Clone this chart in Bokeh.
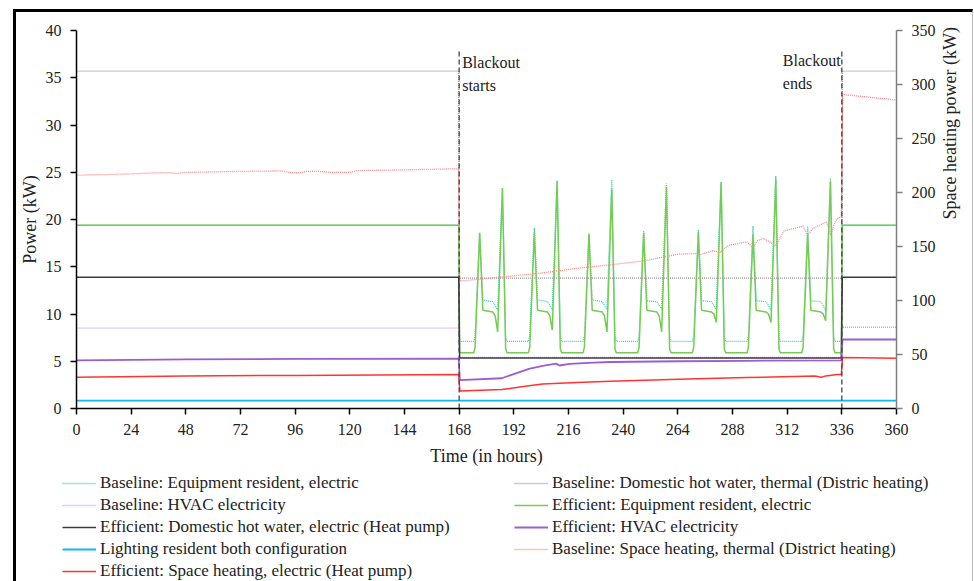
import math
from bokeh.plotting import figure
from bokeh.layouts import column
from bokeh.models import Range1d, LinearAxis, FixedTicker, Legend, LegendItem, Label
from bokeh.embed import file_html
from bokeh.resources import INLINE

FONT = "Liberation Serif"

# ---------------- data ----------------
x_ticks = [0, 24, 48, 72, 96, 120, 144, 168, 192, 216, 240, 264, 288, 312, 336, 360]
y_ticks_left = [0, 5, 10, 15, 20, 25, 30, 35, 40]
y_ticks_right = [0, 50, 100, 150, 200, 250, 300, 350]
blackout_hours = [168, 336]
blackout_texts = ["Blackout\nstarts", "Blackout\nends"]

# Baseline: Equipment resident, electric (kW)
base_equip_h = [0, 167.8, 168.2,
                174.4, 175.0, 177.0, 178.4, 182.8, 183.8, 184.9, 187.0, 188.4, 189.0,
                198.4, 199.0, 201.0, 202.4, 206.8, 207.8, 208.9, 211.0, 212.4, 213.0,
                222.4, 223.0, 225.0, 226.4, 230.8, 231.8, 232.9, 235.0, 236.4, 237.0,
                246.4, 247.0, 249.0, 250.4, 254.8, 255.8, 256.9, 259.0, 260.4, 261.0,
                270.4, 271.0, 273.0, 274.4, 278.8, 279.8, 280.9, 283.0, 284.4, 285.0,
                294.4, 295.0, 297.0, 298.4, 302.8, 303.8, 304.9, 307.0, 308.4, 309.0,
                318.4, 319.0, 321.0, 322.4, 326.8, 327.8, 328.9, 331.0, 332.4, 333.0,
                335.8, 336.2, 360]
base_equip_v = [19.4, 19.4, 7.1,
                7.1, 7.7, 18.6, 11.5, 11.3, 10.9, 10.4, 23.3, 7.6, 7.1,
                7.1, 7.7, 19.1, 11.5, 11.3, 10.9, 10.4, 24.1, 7.6, 7.1,
                7.1, 7.7, 18.5, 11.5, 11.3, 10.9, 10.5, 24.2, 7.6, 7.1,
                7.1, 7.7, 18.8, 11.4, 11.3, 10.9, 10.5, 23.8, 7.6, 7.1,
                7.1, 7.7, 18.9, 11.4, 11.3, 10.9, 10.5, 24.0, 7.6, 7.1,
                7.1, 7.7, 19.3, 11.4, 11.3, 10.9, 10.4, 24.6, 7.6, 7.1,
                7.1, 7.7, 19.3, 11.4, 11.3, 10.9, 10.3, 24.4, 7.6, 7.1,
                7.1, 19.4, 19.4]

# Efficient: Equipment resident, electric (kW)
eff_equip_h = base_equip_h
eff_equip_v = [19.4, 19.4, 5.9,
               5.9, 6.5, 18.6, 10.4, 10.2, 9.8, 8.1, 23.3, 6.3, 5.9,
               5.9, 6.5, 18.6, 10.4, 10.2, 9.8, 8.3, 24.1, 6.3, 5.9,
               5.9, 6.5, 18.5, 10.4, 10.2, 9.8, 8.1, 23.2, 6.3, 5.9,
               5.9, 6.5, 18.6, 10.4, 10.2, 9.8, 8.1, 23.5, 6.3, 5.9,
               5.9, 6.5, 18.6, 10.4, 10.2, 10.0, 9.1, 23.9, 6.3, 5.9,
               5.9, 6.5, 18.4, 10.4, 10.2, 10.0, 9.1, 24.2, 6.3, 5.9,
               5.9, 6.5, 18.4, 10.4, 10.2, 10.0, 9.3, 24.0, 6.3, 5.9,
               5.9, 19.4, 19.4]

# Baseline: Domestic hot water, thermal (kW)
base_dhw_h = [0, 167.8, 168.0, 336.0, 336.2, 360]
base_dhw_v = [35.7, 35.7, 13.8, 13.8, 35.7, 35.7]

# Baseline: HVAC electricity (kW)
base_hvac_h = [0, 167.8, 168.2, 335.8, 336.3, 360]
base_hvac_v = [8.5, 8.5, 5.4, 5.4, 8.6, 8.6]

# Efficient: Domestic hot water, electric (kW)
eff_dhw_h = [0, 167.8, 168.2, 335.8, 336.2, 360]
eff_dhw_v = [13.9, 13.9, 5.35, 5.35, 13.9, 13.9]

# Efficient: HVAC electricity (kW)
eff_hvac_h = [0, 24, 48, 96, 167.8, 168.3, 186.7, 192.6, 198.6, 204.6, 210.6, 212.0,
              216.5, 227.0, 234.5, 264.0, 294.0, 335.8, 336.3, 360]
eff_hvac_v = [5.1, 5.15, 5.2, 5.25, 5.27, 3.0, 3.2, 3.7, 4.2, 4.5, 4.75, 4.55,
              4.72, 4.85, 4.92, 5.0, 5.05, 5.1, 7.3, 7.3]

# Lighting resident both configuration (kW)
light_h = [0, 360]
light_v = [0.84, 0.84]

# Baseline: Space heating, thermal (kW, right axis)
base_sh_h = [0, 20, 40, 44, 48, 70, 90, 94, 98, 101, 106, 112, 120, 123, 145, 167.8,
             168.3, 189.7, 204.6, 219.5, 234.5, 249.4, 264.3, 272.5, 274.0, 279.3, 283.0,
             284.5, 286.7, 294.2, 296.9, 299.0, 301.7, 307.3, 309.0, 310.6, 318.9, 321.0,
             323.0, 324.0, 329.3, 331.2, 332.5, 333.8, 335.8, 336.4, 360]
base_sh_v = [216, 217, 218.5, 217.5, 218.6, 219.5, 220, 218.5, 218.2, 219.5, 219.6, 218.6,
             218.7, 220.3, 221, 222,
             118, 122.4, 125.5, 129.8, 133.1, 136.8, 142.9, 143.5, 142.5, 146, 144.5,
             148.5, 151.2, 154.3, 149.1, 155.5, 157.4, 150.6, 158.5, 164.4, 169, 160.4,
             166.0, 167.5, 172.7, 160.4, 170.0, 175.2, 178.2, 290.8, 285.6]

# Efficient: Space heating, electric (kW)
eff_sh_h = [0, 48, 96, 167.8, 168.3, 186.7, 198.6, 204.6, 219.5, 234.5, 264.3, 294.2,
            324.1, 327.0, 329.0, 333.8, 335.8, 336.3, 360]
eff_sh_v = [3.3, 3.45, 3.5, 3.6, 1.86, 2.0, 2.4, 2.6, 2.74, 2.88, 3.09, 3.27,
            3.45, 3.3, 3.45, 3.59, 3.6, 5.4, 5.33]

SERIES = {
    "Baseline: Equipment resident, electric": (base_equip_h, base_equip_v),
    "Efficient: Equipment resident, electric": (eff_equip_h, eff_equip_v),
    "Baseline: Domestic hot water, thermal (Distric heating)": (base_dhw_h, base_dhw_v),
    "Baseline: HVAC electricity": (base_hvac_h, base_hvac_v),
    "Efficient: Domestic hot water, electric (Heat pump)": (eff_dhw_h, eff_dhw_v),
    "Efficient: HVAC electricity": (eff_hvac_h, eff_hvac_v),
    "Lighting resident both configuration": (light_h, light_v),
    "Baseline: Space heating, thermal (District heating)": (base_sh_h, base_sh_v),
    "Efficient: Space heating, electric (Heat pump)": (eff_sh_h, eff_sh_v),
}
# series styles: label -> (color, width, dash)
STYLES = {
    "Baseline: Equipment resident, electric": ("#35d3b2", 1.3, "1 1"),
    "Efficient: Equipment resident, electric": ("#74cc52", 1.5, "solid"),
    "Baseline: Domestic hot water, thermal (Distric heating)": ("#999999", 1.3, "1 1"),
    "Baseline: HVAC electricity": ("#cf9ced", 1.3, "1 1"),
    "Efficient: Domestic hot water, electric (Heat pump)": ("#3c3c3c", 1.5, "solid"),
    "Efficient: HVAC electricity": ("#9a5ecf", 1.8, "solid"),
    "Lighting resident both configuration": ("#14b6ec", 1.8, "solid"),
    "Baseline: Space heating, thermal (District heating)": ("#ff8585", 1.3, "1 1"),
    "Efficient: Space heating, electric (Heat pump)": ("#ff3434", 1.5, "solid"),
}
legend_col1 = ["Baseline: Equipment resident, electric",
               "Baseline: HVAC electricity",
               "Efficient: Domestic hot water, electric (Heat pump)",
               "Lighting resident both configuration",
               "Efficient: Space heating, electric (Heat pump)"]
legend_col2 = ["Baseline: Domestic hot water, thermal (Distric heating)",
               "Efficient: Equipment resident, electric",
               "Efficient: HVAC electricity",
               "Baseline: Space heating, thermal (District heating)"]

# ---------------- main figure ----------------
pm = figure(width=956, height=456, x_range=Range1d(0, 360), y_range=Range1d(0, 40),
            output_backend="svg", toolbar_location=None,
            min_border_left=59, min_border_right=75, min_border_top=18, min_border_bottom=58)
pm.extra_y_ranges = {"sh": Range1d(0, 350)}
pm.xgrid.visible = False
pm.ygrid.visible = False
pm.outline_line_color = None
pm.border_fill_color = "white"


def style_axis(ax, line_color="#000"):
    ax.axis_line_color = line_color
    ax.axis_line_width = 1.5
    ax.major_tick_line_color = line_color
    ax.major_tick_line_width = 1.5
    ax.major_tick_in = 0
    ax.major_tick_out = 6
    ax.minor_tick_line_color = None
    ax.major_label_text_font = FONT
    ax.major_label_text_font_size = "16px"
    ax.major_label_text_color = "#222"
    ax.major_label_standoff = 9
    ax.axis_label_text_font = FONT
    ax.axis_label_text_font_size = "18px"
    ax.axis_label_text_font_style = "normal"
    ax.axis_label_text_color = "#222"


style_axis(pm.xaxis[0])
pm.xaxis[0].ticker = FixedTicker(ticks=x_ticks)
pm.xaxis[0].axis_label = "Time (in hours)"
pm.xaxis[0].axis_label_standoff = 8

style_axis(pm.yaxis[0])
pm.yaxis[0].ticker = FixedTicker(ticks=y_ticks_left)
pm.yaxis[0].axis_label = "Power (kW)"
pm.yaxis[0].axis_label_standoff = 3

rax = LinearAxis(y_range_name="sh", ticker=FixedTicker(ticks=y_ticks_right),
                 axis_label="Space heating power (kW)")
style_axis(rax, "#7f7f7f")
rax.axis_label_standoff = 11
rax.axis_label_orientation = math.pi / 2
pm.add_layout(rax, "right")

for lab in ["Baseline: Equipment resident, electric",
            "Efficient: Equipment resident, electric",
            "Baseline: Domestic hot water, thermal (Distric heating)",
            "Baseline: HVAC electricity",
            "Efficient: Domestic hot water, electric (Heat pump)",
            "Efficient: HVAC electricity",
            "Lighting resident both configuration",
            "Baseline: Space heating, thermal (District heating)",
            "Efficient: Space heating, electric (Heat pump)"]:
    h, v = SERIES[lab]
    c, w, d = STYLES[lab]
    extra = {"y_range_name": "sh"} if "Space heating, thermal" in lab else {}
    pm.line(h, v, line_color=c, line_width=w, line_dash=d, **extra)

# blackout markers
pm.segment(x0=blackout_hours, y0=[0, 0], x1=blackout_hours, y1=[37.9, 37.9],
           line_color="#444", line_width=1.3, line_dash="5 3")
pm.add_layout(Label(x=blackout_hours[0], y=37.5, x_offset=3, text=blackout_texts[0],
                    text_font=FONT, text_font_size="16px", text_color="#222",
                    text_baseline="top", text_line_height=1.35))
pm.add_layout(Label(x=blackout_hours[1], y=37.7, x_offset=-59, text=blackout_texts[1],
                    text_font=FONT, text_font_size="16px", text_color="#222",
                    text_baseline="top", text_line_height=1.35))

# ---------------- legend figure (series drawn out of view, keys only) ----------------
pl = figure(width=956, height=113, x_range=Range1d(0, 1), y_range=Range1d(1000, 1001),
            output_backend="svg", toolbar_location=None, x_axis_type=None, y_axis_type=None,
            min_border_left=0, min_border_right=0, min_border_top=0, min_border_bottom=0)
try:
    pl.frame_align = False
except Exception:
    pass
pl.xgrid.visible = False
pl.ygrid.visible = False
pl.outline_line_color = None
pl.border_fill_color = "white"


def legend_for(labels, loc):
    its = []
    for lab in labels:
        h, v = SERIES[lab]
        c, w, d = STYLES[lab]
        r = pl.line(h, v, line_color=c, line_width=w, line_dash=d)
        its.append(LegendItem(label=lab, renderers=[r]))
    return Legend(items=its, location=loc, orientation="vertical",
                  padding=0, margin=0, spacing=2,
                  glyph_width=34, glyph_height=20, label_height=20, label_standoff=4,
                  label_text_font=FONT, label_text_font_size="17px", label_text_color="#222",
                  border_line_alpha=0, background_fill_alpha=0)


pl.add_layout(legend_for(legend_col1, (46, 0)))
pl.add_layout(legend_for(legend_col2, (498, 22)))

p = column(pm, pl, spacing=0)
p.margin = (9, 0, 0, 13)
p.styles = {"border-left": "3px solid #000", "border-top": "3px solid #000",
            "border-right": "1px solid #bbb"}

open("out.html", "w").write(file_html(p, INLINE))
